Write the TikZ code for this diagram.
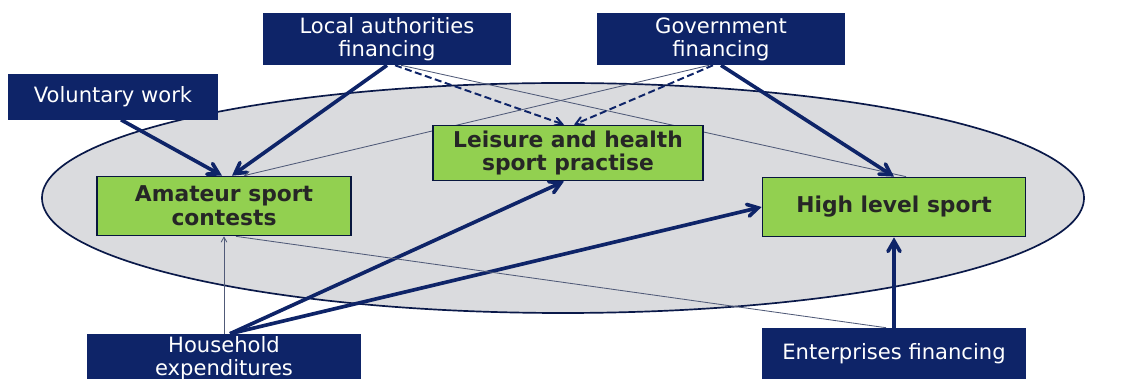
\documentclass[tikz,border=0pt]{standalone}
\usepackage{fontspec}
\setmainfont{DejaVu Sans}
\usetikzlibrary{arrows,backgrounds}
\definecolor{navy}{RGB}{14,36,104}
\definecolor{leaf}{RGB}{146,208,80}
\definecolor{ovalgray}{RGB}{218,219,222}
\definecolor{thinline}{RGB}{80,90,120}

\begin{document}
\begin{tikzpicture}
[>=angle 60, x=0.025cm, y=-0.025cm,
 source/.style={fill=navy, text=white, align=center, inner sep=0pt,
   font=\fontsize{15}{16.5}\selectfont},
 sector/.style={fill=leaf, draw=navy!60!black, line width=1.2pt, align=center,
   inner sep=0pt, text=black!85, font=\bfseries\fontsize{15.5}{17}\selectfont},
 strong/.style={->, navy, line width=2.6pt},
 weak/.style={thinline, line width=0.6pt},
 maybe/.style={->, navy, dash pattern=on 5pt off 2.5pt, line width=1.4pt}]

	\useasboundingbox (0,0) rectangle (1126,379);
	\clip (0,0) rectangle (1126,379);
	%\draw[gray,step=50] (0,0) grid (1126,379);

	% sources of money and work
	\node[source, minimum width=6.2cm, minimum height=1.3cm] (local) at (387,39)
	{Local authorities\\financing};
	\node[source, minimum width=6.18cm, minimum height=1.3cm] (gov) at (721,39)
	{Government\\financing};
	\node[source, minimum width=5.25cm, minimum height=1.125cm] (vol) at (113,97)
	{Voluntary work};
	\node[source, minimum width=6.85cm, minimum height=1.2cm] (house) at (224,358)
	{Household\\expenditures};
	\node[source, minimum width=6.575cm, minimum height=1.3cm] (enter) at (894,354)
	{Enterprises financing};

	% kinds of sport
	\node[sector, minimum width=6.35cm, minimum height=1.475cm] (ama) at (224,206)
	{Amateur sport\\contests};
	\node[sector, minimum width=6.75cm, minimum height=1.375cm] (leis) at (568,153)
	{Leisure and health\\sport practise};
	\node[sector, minimum width=6.575cm, minimum height=1.475cm] (high) at (894,207)
	{High level sport};

	\begin{scope}[on background layer]
	\draw[fill=ovalgray, draw=navy!70!black, line width=1.2pt] (563,198) ellipse [x radius=521, y radius=115];

	\draw[strong] ([xshift=0.2cm]vol.south) -- ([xshift=-0.05cm]ama.north);
	\draw[strong] (local.south) -- ([xshift=0.2cm]ama.north);
	\draw[maybe] ([xshift=0.2cm]local.south) -- ([xshift=-0.1cm]leis.north);
	\draw[weak] ([xshift=0.35cm]local.south) -- ([xshift=0.3cm]high.north);

	\draw[strong] (gov.south) -- (high.north);
	\draw[maybe] ([xshift=-0.2cm]gov.south) -- ([xshift=0.15cm]leis.north);
	\draw[weak, ->] ([xshift=-0.3cm]gov.south) -- ([xshift=0.5cm]ama.north);

	\draw[strong] ([xshift=0.15cm]house.north) -- ([xshift=-0.1cm]leis.south);
	\draw[strong] ([xshift=0.15cm]house.north) -- (high.west);
	\draw[weak, ->] (house.north) -- (ama.south);

	\draw[strong] (enter.north) -- (high.south);
	\draw[weak] ([xshift=-0.2cm]enter.north) -- ([xshift=0.3cm]ama.south);
	\end{scope}
\end{tikzpicture}
\end{document}
